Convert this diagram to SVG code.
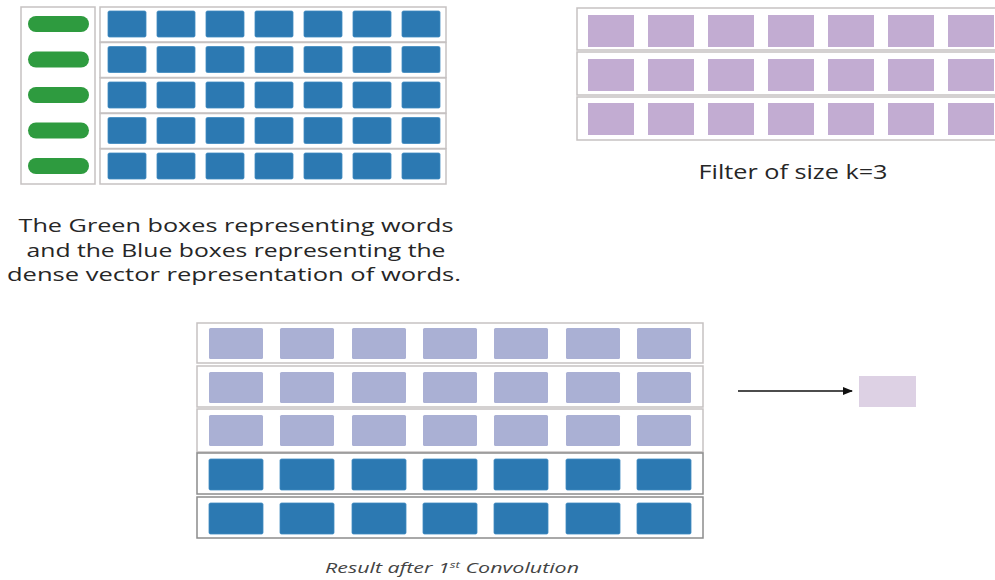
<svg xmlns="http://www.w3.org/2000/svg" width="995" height="580" viewBox="0 0 995 580">
<defs>
<style>
.row{fill:#fff;stroke:#c6c2c2;stroke-width:1.5}
.rowd{fill:#fff;stroke:#8c8c8c;stroke-width:1.5}
.blue{fill:#2c79b2;stroke:#3f8ac0;stroke-width:0.8}
.green{fill:#2e9b3f}
.purp{fill:#c2acd2}
.lav{fill:#aab0d4}
.txt{font-family:"Open Sans","DejaVu Sans",sans-serif;fill:#262626}
.cap{font-family:"Open Sans","DejaVu Sans",sans-serif;font-style:italic;fill:#444}
</style>
<marker id="ah" markerWidth="10" markerHeight="8" refX="9" refY="4" orient="auto" markerUnits="userSpaceOnUse">
<path d="M0,0 L10,4 L0,8 Z" fill="#111"/>
</marker>
<g id="brow">
<rect x="108" y="0" width="38" height="26" rx="1.5" class="blue"/>
<rect x="157" y="0" width="38" height="26" rx="1.5" class="blue"/>
<rect x="206" y="0" width="38" height="26" rx="1.5" class="blue"/>
<rect x="255" y="0" width="38" height="26" rx="1.5" class="blue"/>
<rect x="304" y="0" width="38" height="26" rx="1.5" class="blue"/>
<rect x="353" y="0" width="38" height="26" rx="1.5" class="blue"/>
<rect x="402" y="0" width="38" height="26" rx="1.5" class="blue"/>
</g>
<g id="prow">
<rect x="588" y="0" width="46" height="32" class="purp"/>
<rect x="648" y="0" width="46" height="32" class="purp"/>
<rect x="708" y="0" width="46" height="32" class="purp"/>
<rect x="768" y="0" width="46" height="32" class="purp"/>
<rect x="828" y="0" width="46" height="32" class="purp"/>
<rect x="888" y="0" width="46" height="32" class="purp"/>
<rect x="948" y="0" width="46" height="32" class="purp"/>
</g>
<g id="lrow">
<rect x="209" y="0" width="54" height="31" rx="1.5" class="lav"/>
<rect x="280" y="0" width="54" height="31" rx="1.5" class="lav"/>
<rect x="352" y="0" width="54" height="31" rx="1.5" class="lav"/>
<rect x="423" y="0" width="54" height="31" rx="1.5" class="lav"/>
<rect x="494" y="0" width="54" height="31" rx="1.5" class="lav"/>
<rect x="566" y="0" width="54" height="31" rx="1.5" class="lav"/>
<rect x="637" y="0" width="54" height="31" rx="1.5" class="lav"/>
</g>
<g id="bbrow">
<rect x="209" y="0" width="54" height="31" rx="1.5" class="blue"/>
<rect x="280" y="0" width="54" height="31" rx="1.5" class="blue"/>
<rect x="352" y="0" width="54" height="31" rx="1.5" class="blue"/>
<rect x="423" y="0" width="54" height="31" rx="1.5" class="blue"/>
<rect x="494" y="0" width="54" height="31" rx="1.5" class="blue"/>
<rect x="566" y="0" width="54" height="31" rx="1.5" class="blue"/>
<rect x="637" y="0" width="54" height="31" rx="1.5" class="blue"/>
</g>
</defs>
<rect width="995" height="580" fill="#fff"/>

<g id="words">
<rect x="21" y="7" width="74" height="177" class="row"/>
<rect x="28" y="16" width="61" height="16" rx="8" class="green"/>
<rect x="28" y="51.5" width="61" height="16" rx="8" class="green"/>
<rect x="28" y="87" width="61" height="16" rx="8" class="green"/>
<rect x="28" y="122.5" width="61" height="16" rx="8" class="green"/>
<rect x="28" y="158" width="61" height="16" rx="8" class="green"/>
</g>

<g id="embeddings">
<rect x="100" y="7" width="346" height="35" class="row"/>
<rect x="100" y="42.5" width="346" height="35" class="row"/>
<rect x="100" y="78" width="346" height="35" class="row"/>
<rect x="100" y="113.5" width="346" height="35" class="row"/>
<rect x="100" y="149" width="346" height="35" class="row"/>
<use href="#brow" y="11"/>
<use href="#brow" y="46.5"/>
<use href="#brow" y="82"/>
<use href="#brow" y="117.5"/>
<use href="#brow" y="153"/>
</g>

<g id="caption-words">
<text class="txt" font-size="19" text-anchor="middle" x="236" y="232" textLength="435" lengthAdjust="spacingAndGlyphs">The Green boxes representing words</text>
<text class="txt" font-size="19" text-anchor="middle" x="236" y="257" textLength="419" lengthAdjust="spacingAndGlyphs">and the Blue boxes representing the</text>
<text class="txt" font-size="19" text-anchor="middle" x="234" y="281" textLength="454" lengthAdjust="spacingAndGlyphs">dense vector representation of words.</text>
</g>

<g id="filter">
<rect x="577" y="8" width="430" height="42" class="row"/>
<rect x="577" y="52" width="430" height="43" class="row"/>
<rect x="577" y="97" width="430" height="43" class="row"/>
<use href="#prow" y="15"/>
<use href="#prow" y="59"/>
<use href="#prow" y="103"/>
</g>

<g id="filter-label">
<text class="txt" font-size="19.5" text-anchor="middle" x="793" y="179" textLength="189" lengthAdjust="spacingAndGlyphs">Filter of size k=3</text>
</g>

<g id="convolution">
<rect x="197" y="323" width="506" height="40" class="row"/>
<rect x="197" y="366" width="506" height="41" class="row"/>
<rect x="197" y="409" width="506" height="43" class="row"/>
<rect x="197" y="453" width="506" height="41" class="rowd"/>
<rect x="197" y="497" width="506" height="41" class="rowd"/>
<use href="#lrow" y="328"/>
<use href="#lrow" y="372"/>
<use href="#lrow" y="415"/>
<use href="#bbrow" y="459"/>
<use href="#bbrow" y="503"/>
</g>

<g id="result">
<rect x="859" y="376" width="57" height="31" fill="#ddd1e4"/>
</g>

<g id="connectors">
<line x1="738" y1="391" x2="852" y2="391" stroke="#111" stroke-width="1.5" marker-end="url(#ah)"/>
</g>

<g id="caption-result">
<text class="cap" font-size="14.5" x="325" y="573" textLength="254" lengthAdjust="spacingAndGlyphs">Result after 1<tspan font-size="9" dy="-5">st</tspan><tspan dy="5"> Convolution</tspan></text>
</g>
</svg>
